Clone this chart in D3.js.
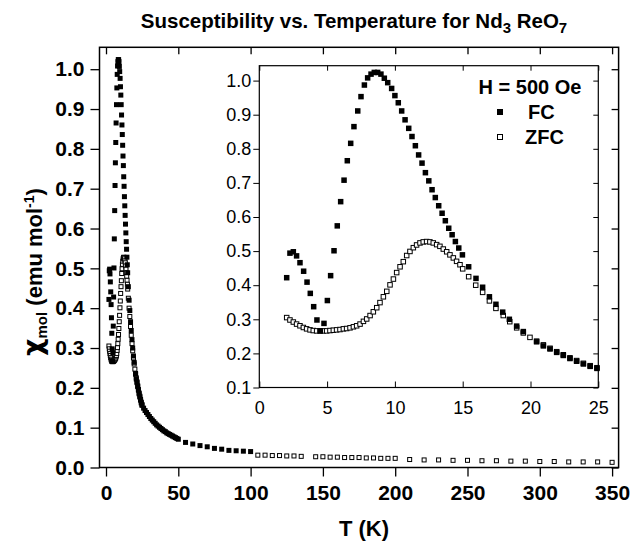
<!DOCTYPE html>
<html>
<head>
<meta charset="utf-8">
<script src="https://cdn.jsdelivr.net/npm/d3@7/dist/d3.min.js"></script>
<style>
body { margin: 0; background: #fff; }
text { font-family: "Liberation Sans", Arial, sans-serif; fill: #000; }
</style>
</head>
<body>
<script>
// FC, low temperature (also drawn in the inset)
var fcT = [2.02, 2.26, 2.51, 2.75, 3.0, 3.27, 3.52, 3.76, 4.01, 4.25, 4.5, 4.77, 5.02, 5.26, 5.51,
           5.75, 6.0, 6.25, 6.49, 6.74, 6.98, 7.26, 7.5, 7.75, 7.99, 8.24, 8.48, 8.73, 8.97, 9.22,
           9.47, 9.76, 10.0, 10.25, 10.5, 10.75, 11.02, 11.26, 11.51, 11.75, 12.0, 12.25, 12.5, 12.74, 12.98,
           13.23, 13.48, 13.72, 13.97, 14.22, 14.46, 14.71, 14.98, 15.44, 15.98, 16.47, 16.97, 17.45, 17.95, 18.44,
           18.98, 19.47, 20.45, 20.95, 21.44, 21.93, 22.42, 22.91, 23.4, 23.9, 24.4, 24.9];
var fcChi = [0.422, 0.494, 0.498, 0.486, 0.466, 0.441, 0.409, 0.376, 0.337, 0.298, 0.266, 0.288, 0.355, 0.428, 0.501,
             0.574, 0.645, 0.708, 0.765, 0.816, 0.865, 0.911, 0.953, 0.987, 1.008, 1.019, 1.024, 1.024, 1.019, 1.007,
             0.994, 0.977, 0.956, 0.935, 0.911, 0.885, 0.860, 0.836, 0.809, 0.782, 0.758, 0.730, 0.706, 0.680, 0.657,
             0.633, 0.611, 0.589, 0.567, 0.548, 0.528, 0.509, 0.489, 0.454, 0.420, 0.394, 0.366, 0.344, 0.321, 0.300,
             0.280, 0.264, 0.234, 0.222, 0.213, 0.203, 0.194, 0.185, 0.177, 0.169, 0.162, 0.156];

// ZFC, low temperature
var zfcT = [2.02, 2.26, 2.51, 2.75, 3.0, 3.25, 3.49, 3.74, 3.98, 4.23, 4.48, 4.72, 4.97, 5.21, 5.46,
            5.7, 5.95, 6.2, 6.44, 6.69, 6.94, 7.18, 7.43, 7.68, 7.92, 8.17, 8.41, 8.66, 8.9, 9.15,
            9.4, 9.64, 9.89, 10.13, 10.38, 10.62, 10.87, 11.11, 11.36, 11.6, 11.85, 12.09, 12.34, 12.58, 12.83,
            13.08, 13.32, 13.57, 13.82, 14.06, 14.31, 14.55, 14.8, 15.0, 15.44, 15.96, 16.47, 16.97, 17.45, 17.99,
            18.47, 18.98, 19.47, 19.96, 20.45, 20.95, 21.44, 21.93, 22.42, 22.91, 23.4, 23.9, 24.4, 24.9];
var zfcChi = [0.305, 0.298, 0.292, 0.286, 0.281, 0.276, 0.272, 0.269, 0.267, 0.266, 0.266, 0.266, 0.266, 0.267, 0.268,
              0.269, 0.270, 0.272, 0.273, 0.275, 0.278, 0.281, 0.286, 0.294, 0.301, 0.311, 0.322, 0.334, 0.349, 0.366,
              0.382, 0.401, 0.418, 0.437, 0.454, 0.469, 0.487, 0.499, 0.510, 0.518, 0.524, 0.527, 0.528, 0.527, 0.524,
              0.519, 0.514, 0.506, 0.498, 0.489, 0.480, 0.470, 0.460, 0.448, 0.425, 0.400, 0.379, 0.354, 0.332, 0.311,
              0.293, 0.275, 0.260, 0.247, 0.236, 0.225, 0.215, 0.205, 0.196, 0.187, 0.179, 0.171, 0.164, 0.158];

// FC above 25 K (main plot only)
var fcHighT = [26, 27, 28, 29, 30, 31, 32, 33, 34, 35, 36, 37, 38, 39, 40, 41, 42, 43, 44, 45, 46, 47, 48, 49, 50,
               55, 60, 65, 70, 75, 80, 85, 90, 95, 100];
var fcHighChi = [0.149, 0.143, 0.138, 0.133, 0.128, 0.123, 0.119, 0.115, 0.111, 0.107, 0.104, 0.101, 0.098, 0.095, 0.092,
                 0.090, 0.087, 0.085, 0.083, 0.081, 0.079, 0.077, 0.075, 0.073, 0.071,
                 0.063, 0.059, 0.055, 0.052, 0.048, 0.046, 0.043, 0.042, 0.041, 0.040];

// ZFC above 100 K
var zfcHighT = [105, 110, 115, 120, 125, 130, 135,
                145, 150, 155, 160, 165, 170, 175, 180, 185, 190, 195, 200,
                210, 220, 230, 240, 250, 260, 270, 280, 290, 300, 310, 320, 330, 340, 350];
var zfcHighChi = [0.031, 0.031, 0.030, 0.030, 0.029, 0.029, 0.028,
                  0.027, 0.027, 0.026, 0.026, 0.025, 0.025, 0.025, 0.024, 0.024, 0.023, 0.023, 0.023,
                  0.020, 0.019, 0.019, 0.018, 0.018, 0.017, 0.017, 0.016, 0.016, 0.015, 0.015, 0.014, 0.014, 0.014, 0.013];

var mainXTicks = [0, 50, 100, 150, 200, 250, 300, 350];
var mainYTicks = [0.0, 0.1, 0.2, 0.3, 0.4, 0.5, 0.6, 0.7, 0.8, 0.9, 1.0];
var insetXTicks = [0, 5, 10, 15, 20, 25];
var insetYTicks = [0.1, 0.2, 0.3, 0.4, 0.5, 0.6, 0.7, 0.8, 0.9, 1.0];

var width = 631, height = 541;
var svg = d3.select("body").append("svg").attr("width", width).attr("height", height);

var fcLow = d3.zip(fcT, fcChi);
var zfcLow = d3.zip(zfcT, zfcChi);
var fcAll = fcLow.concat(d3.zip(fcHighT, fcHighChi));
var zfcAll = zfcLow.concat(d3.zip(zfcHighT, zfcHighChi));

// main plot
var x = d3.scaleLinear().domain([-4.5, 354.5]).range([99.5, 618.6]);
var y = d3.scaleLinear().domain([0, 1.055]).range([467.5, 47.3]);

function minors(a, b, step) {
    return d3.range(a, b + step / 2, step);
}

var gx = svg.append("g").attr("transform", "translate(0,467.5)");
gx.call(d3.axisBottom(x).tickValues(minors(0, 350, 25)).tickSize(5).tickFormat(""));
gx.call(d3.axisBottom(x).tickValues(mainXTicks).tickSize(9).tickPadding(9).tickFormat(d3.format("d")));
var gxt = svg.append("g").attr("transform", "translate(0,47.3)");
gxt.call(d3.axisTop(x).tickValues(minors(0, 350, 25)).tickSize(-4).tickFormat(""));
gxt.call(d3.axisTop(x).tickValues(mainXTicks).tickSize(-7).tickFormat(""));

var gy = svg.append("g").attr("transform", "translate(99.5,0)");
gy.call(d3.axisLeft(y).tickValues(minors(0, 1.05, 0.05)).tickSize(5).tickFormat(""));
gy.call(d3.axisLeft(y).tickValues(mainYTicks).tickSize(9).tickPadding(6).tickFormat(d3.format(".1f")));
var gyr = svg.append("g").attr("transform", "translate(618.6,0)");
gyr.call(d3.axisRight(y).tickValues(minors(0, 1.05, 0.05)).tickSize(-4).tickFormat(""));
gyr.call(d3.axisRight(y).tickValues(mainYTicks).tickSize(-7).tickFormat(""));

svg.selectAll(".domain").remove();
svg.selectAll(".tick line").attr("stroke", "#000").attr("stroke-width", 1.3);
gx.selectAll("text").style("font-size", "21px").style("font-weight", "bold");
gy.selectAll("text").style("font-size", "21px").style("font-weight", "bold");

svg.append("rect").attr("x", 99.5).attr("y", 47.3).attr("width", 618.6 - 99.5).attr("height", 467.5 - 47.3)
   .attr("fill", "none").attr("stroke", "#000").attr("stroke-width", 1.5);

function drawPoints(g, data, sx, sy, size, filled) {
    g.selectAll(null).data(data).enter().append("rect")
     .attr("x", function(d) { return sx(d[0]) - size / 2; })
     .attr("y", function(d) { return sy(d[1]) - size / 2; })
     .attr("width", size).attr("height", size)
     .attr("fill", filled ? "#000" : "#fff")
     .attr("stroke", filled ? "none" : "#000")
     .attr("stroke-width", filled ? 0 : 1);
}

var mainPts = svg.append("g");
drawPoints(mainPts, zfcAll, x, y, 4, false);
drawPoints(mainPts, fcAll, x, y, 5, true);

// inset
var ix = d3.scaleLinear().domain([0, 25]).range([259.3, 598.3]);
var iy = d3.scaleLinear().domain([0.1, 1.0437]).range([387.5, 65.7]);

var igx = svg.append("g").attr("transform", "translate(0,387.5)");
igx.call(d3.axisBottom(ix).tickValues(minors(0, 25, 1)).tickSize(-3.5).tickFormat(""));
igx.call(d3.axisBottom(ix).tickValues(insetXTicks).tickSize(-6).tickPadding(14).tickFormat(d3.format("d")));
var igxt = svg.append("g").attr("transform", "translate(0,65.7)");
igxt.call(d3.axisTop(ix).tickValues(minors(0, 25, 1)).tickSize(-3).tickFormat(""));
igxt.call(d3.axisTop(ix).tickValues(insetXTicks).tickSize(-5).tickFormat(""));

var igy = svg.append("g").attr("transform", "translate(259.3,0)");
igy.call(d3.axisLeft(iy).tickValues(minors(0.1, 1.0, 0.05)).tickSize(3).tickFormat(""));
igy.call(d3.axisLeft(iy).tickValues(insetYTicks).tickSize(6).tickPadding(2).tickFormat(d3.format(".1f")));
var igyr = svg.append("g").attr("transform", "translate(598.3,0)");
igyr.call(d3.axisRight(iy).tickValues(minors(0.1, 1.0, 0.05)).tickSize(-3).tickFormat(""));
igyr.call(d3.axisRight(iy).tickValues(insetYTicks).tickSize(-5).tickFormat(""));

svg.selectAll(".domain").remove();
[igx, igxt, igy, igyr].forEach(function(g) {
    g.selectAll(".tick line").attr("stroke", "#000").attr("stroke-width", 1);
});
igx.selectAll("text").style("font-size", "18px");
igy.selectAll("text").style("font-size", "18px");

svg.append("rect").attr("x", 259.3).attr("y", 65.7).attr("width", 598.3 - 259.3).attr("height", 387.5 - 65.7)
   .attr("fill", "none").attr("stroke", "#000").attr("stroke-width", 1.2);

var insetPts = svg.append("g");
drawPoints(insetPts, zfcLow, ix, iy, 4.5, false);
drawPoints(insetPts, fcLow, ix, iy, 5.5, true);

// legend
svg.append("text").attr("x", 530).attr("y", 94).attr("text-anchor", "middle")
   .style("font-size", "20px").style("font-weight", "bold").text("H = 500 Oe");
var legend = svg.append("g").selectAll(".legends").data([["FC", true], ["ZFC", false]]).enter()
                .append("g").attr("transform", function(d, i) { return "translate(500," + (112 + i * 25) + ")"; });
legend.append("rect").attr("x", function(d) { return d[1] ? -3 : -2.5; }).attr("y", function(d) { return d[1] ? -3 : -2.5; })
      .attr("width", function(d) { return d[1] ? 6 : 5; }).attr("height", function(d) { return d[1] ? 6 : 5; })
      .attr("fill", function(d) { return d[1] ? "#000" : "#fff"; })
      .attr("stroke", function(d) { return d[1] ? "none" : "#000"; });
legend.append("text").attr("x", function(d) { return d[1] ? 28 : 25; }).attr("y", 7)
      .style("font-size", "20px").style("font-weight", "bold").text(function(d) { return d[0]; });

// titles
var title = svg.append("text").attr("x", 354).attr("y", 28).attr("text-anchor", "middle")
               .style("font-size", "20.5px").style("font-weight", "bold");
title.append("tspan").text("Susceptibility vs. Temperature for Nd");
title.append("tspan").attr("dy", 5).style("font-size", "15px").text("3");
title.append("tspan").attr("dy", -5).text(" ReO");
title.append("tspan").attr("dy", 5).style("font-size", "15px").text("7");

svg.append("text").attr("x", 364).attr("y", 536).attr("text-anchor", "middle")
   .style("font-size", "22px").style("font-weight", "bold").text("T (K)");

var ylab = svg.append("text").attr("transform", "translate(42,272) rotate(-90)").attr("text-anchor", "middle")
              .style("font-size", "22px").style("font-weight", "bold");
ylab.append("tspan").style("font-size", "27px").style("font-family", "'DejaVu Sans'").text("\u03c7");
ylab.append("tspan").attr("dy", 5).style("font-size", "15px").text("mol");
ylab.append("tspan").attr("dy", -5).text(" (emu mol");
ylab.append("tspan").attr("dy", -8).style("font-size", "14px").text("-1");
ylab.append("tspan").attr("dy", 8).text(")");
</script>
</body>
</html>
